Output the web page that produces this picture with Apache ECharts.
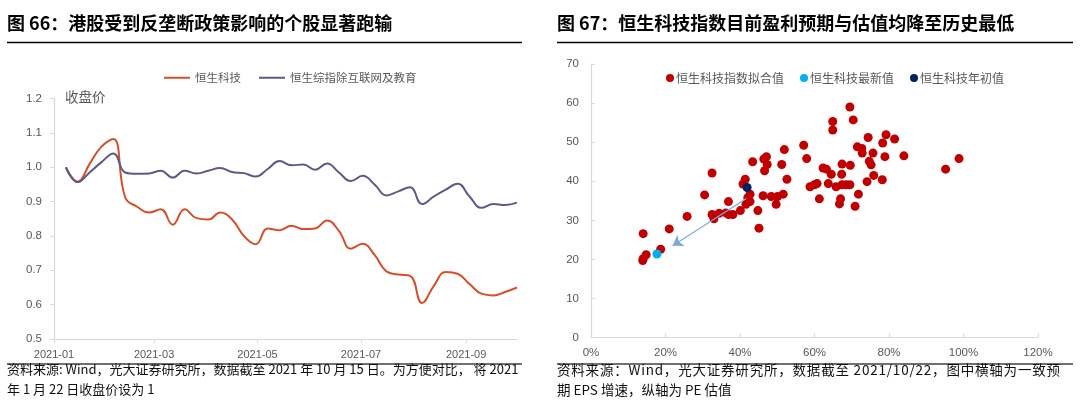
<!DOCTYPE html>
<html>
<head>
<meta charset="utf-8">
<script src="https://cdn.jsdelivr.net/npm/echarts@6/dist/echarts.min.js"></script>
<style>
html,body{margin:0;padding:0;background:#fff;}
#c{width:1080px;height:414px;}
</style>
</head>
<body>
<div id="c"></div>
<script>
// ---------- Left chart data (weekly closes, 2021-01-22 = 1) ----------
var dates = ['2021-01-22','2021-01-29','2021-02-05','2021-02-12','2021-02-19','2021-02-26','2021-03-05','2021-03-12','2021-03-19','2021-03-26',
  '2021-04-02','2021-04-09','2021-04-16','2021-04-23','2021-04-30','2021-05-07','2021-05-14','2021-05-21','2021-05-28','2021-06-04',
  '2021-06-11','2021-06-18','2021-06-25','2021-07-02','2021-07-09','2021-07-16','2021-07-23','2021-07-30','2021-08-06','2021-08-13',
  '2021-08-20','2021-08-27','2021-09-03','2021-09-10','2021-09-17','2021-09-24','2021-10-01','2021-10-08','2021-10-15'];
var hsTech = [1.000,0.958,1.010,1.060,1.082,0.912,0.885,0.868,0.878,0.833,
  0.878,0.852,0.848,0.868,0.848,0.800,0.776,0.822,0.817,0.830,
  0.820,0.822,0.845,0.815,0.763,0.777,0.745,0.697,0.688,0.684,
  0.605,0.655,0.695,0.690,0.660,0.632,0.627,0.637,0.650];
var hsExNet = [1.000,0.957,0.985,1.015,1.040,0.985,0.981,0.982,0.990,0.970,
  0.990,0.982,0.990,0.998,0.986,0.983,0.973,0.995,1.018,1.006,
  1.008,0.993,1.011,0.985,0.960,0.975,0.950,0.918,0.930,0.942,
  0.893,0.915,0.935,0.952,0.915,0.882,0.893,0.890,0.897];
var leftSeriesNames = ['恒生科技','恒生综指除互联网及教育'];
var leftTickDates = ['2021-01-15','2021-03-15','2021-05-15','2021-07-15','2021-09-15'];
var leftTickLabels = ['2021-01','2021-03','2021-05','2021-07','2021-09'];
var axisStartDate = '2021-01-15';
var axisEndDate = '2021-10-15';

// ---------- Right chart data (x: EPS growth %, y: PE) ----------
var fitPoints = [
  [14.0,26.6],[21.0,27.8],[25.8,31.0],[30.5,36.5],[32.5,42.1],[32.5,31.5],[33.0,30.4],[34.4,31.8],[36.2,31.9],[36.9,34.8],
  [36.9,31.5],[38.1,31.5],[40.1,32.5],[40.8,39.3],[41.4,40.5],[41.6,34.1],[42.1,35.8],[42.7,36.7],[42.7,34.8],[43.4,45.0],
  [44.8,32.5],[45.1,28.0],[46.2,36.3],[46.4,45.7],[47.1,46.3],[47.3,44.3],[46.6,42.7],[48.4,36.1],[49.7,34.1],[50.1,36.1],
  [51.2,44.3],[51.6,36.7],[51.9,48.1],[52.6,40.5],[57.1,49.2],[57.9,45.8],[58.8,38.6],[60.0,39.1],[60.7,39.4],[61.3,35.5],
  [62.3,43.4],[63.2,43.1],[63.7,39.4],[64.5,41.8],[64.9,55.3],[64.9,53.1],[65.8,38.6],[66.7,34.2],[67.0,35.5],[67.3,41.8],
  [67.4,44.4],[67.4,39.1],[68.5,39.1],[69.5,59.0],[69.5,39.1],[69.6,44.1],[70.4,55.7],[70.9,33.6],[71.5,48.8],[71.8,36.7],
  [72.7,48.4],[72.8,47.2],[74.1,39.9],[74.4,51.2],[74.7,45.1],[75.2,44.2],[75.7,47.2],[75.9,41.5],[78.2,40.4],[78.3,49.8],
  [78.9,46.3],[79.2,51.9],[81.5,50.8],[84.0,46.5],[95.2,43.1],[98.8,45.8],
  [14.0,20.2],[13.9,19.7],[14.8,21.2],[18.7,22.6]
];
var latestPoint = [[17.7,21.4]];
var startPoint = [[41.9,38.4]];
var arrowFrom = [41.7,35.6];
var arrowTo = [21.9,23.5];
var rightSeriesNames = ['恒生科技指数拟合值','恒生科技最新值','恒生科技年初值'];

// ---------- build ----------
var DAY = 86400000;
function toDay(s){ return (Date.parse(s) - Date.parse(axisStartDate)) / DAY; }
var axisMaxDay = toDay(axisEndDate);
var tickDays = leftTickDates.map(toDay);
function pairs(vals){ return dates.map(function(d,i){ return [toDay(d), vals[i]]; }); }

var FONT = '"Liberation Sans", "Noto Sans CJK SC", sans-serif';
var CJK = '"Noto Sans CJK SC", "Liberation Sans", sans-serif';
var GRAY = '#595959';
var AXIS = '#D9D9D9';

// justified text line: one text element per character, spread to fill width
var mctx = document.createElement('canvas').getContext('2d');
function justify(str, x0, x1, top, size){
  mctx.font = size + 'px ' + CJK;
  var chars = Array.from(str);
  var widths = chars.map(function(c){ return mctx.measureText(c).width; });
  var total = widths.reduce(function(a,b){return a+b;}, 0);
  var gap = (x1 - x0 - total) / (chars.length - 1);
  var x = x0, out = [];
  chars.forEach(function(c,i){
    if (c !== ' ') out.push({type:'text', left:x, top:top, style:{text:c, fontSize:size, fill:'#111', fontFamily:CJK}});
    x += widths[i] + gap;
  });
  return out;
}

var graphics = [
  {type:'text', left:7, top:14, style:{text:'图 66：港股受到反垄断政策影响的个股显著跑输', fontSize:18, fontWeight:'bold', fill:'#000', fontFamily:CJK}},
  {type:'line', shape:{x1:7, y1:42.5, x2:522, y2:42.5}, style:{stroke:'#000', lineWidth:1.3}},
  {type:'text', left:557, top:14, style:{text:'图 67：恒生科技指数目前盈利预期与估值均降至历史最低', fontSize:18, fontWeight:'bold', fill:'#000', fontFamily:CJK}},
  {type:'line', shape:{x1:557, y1:42.5, x2:1073, y2:42.5}, style:{stroke:'#000', lineWidth:1.3}},
  {type:'text', left:65, top:90, style:{text:'收盘价', fontSize:13.5, fill:GRAY, fontFamily:CJK}},
  {type:'line', shape:{x1:7, y1:364, x2:522, y2:364}, style:{stroke:'#404040', lineWidth:1.6}},
  {type:'text', left:7, top:363, style:{text:'资料来源: Wind，光大证券研究所，数据截至 2021 年 10 月 15 日。为方便对比， 将 2021', fontSize:13, fill:'#111', fontFamily:CJK}},
  {type:'text', left:7, top:383, style:{text:'年 1 月 22 日收盘价设为 1', fontSize:13, fill:'#111', fontFamily:CJK}},
  {type:'line', shape:{x1:557, y1:364, x2:1073, y2:364}, style:{stroke:'#404040', lineWidth:1.6}},
  {type:'text', left:557, top:383, style:{text:'期 EPS 增速，纵轴为 PE 估值', fontSize:13.5, fill:'#111', fontFamily:CJK}}
].concat(justify('资料来源：Wind，光大证券研究所，数据截至 2021/10/22，图中横轴为一致预', 557, 1060, 363, 13.5));

var chart = echarts.init(document.getElementById('c'), null, {renderer:'canvas'});
chart.setOption({
  animation:false,
  backgroundColor:'#fff',
  textStyle:{fontFamily:FONT},
  grid:[
    {left:54, top:98.6, width:463, height:240.4},
    {left:591, top:64, width:447, height:273.6}
  ],
  legend:[
    {data:leftSeriesNames, left:159, top:67, itemGap:18, itemWidth:26, itemHeight:2, icon:'rect',
     textStyle:{color:GRAY, fontSize:11.5, fontFamily:CJK}},
    {data:rightSeriesNames, left:661, top:67, itemGap:16, itemWidth:8, itemHeight:8, icon:'circle',
     textStyle:{color:GRAY, fontSize:12, fontFamily:CJK, padding:[0,0,0,-3]}}
  ],
  xAxis:[
    {gridIndex:0, type:'value', min:0, max:axisMaxDay,
     axisLine:{lineStyle:{color:AXIS, width:1.2}},
     axisTick:{show:true, length:4, lineStyle:{color:AXIS}, customValues:tickDays},
     splitLine:{show:false},
     axisLabel:{color:GRAY, fontSize:11, margin:10, customValues:tickDays,
       formatter:function(v){ var i = tickDays.indexOf(v); return i >= 0 ? leftTickLabels[i] : ''; }}},
    {gridIndex:1, type:'value', min:0, max:120, interval:20,
     axisLine:{lineStyle:{color:AXIS, width:1.2}},
     axisTick:{show:true, inside:true, length:4, lineStyle:{color:AXIS}},
     splitLine:{show:false},
     axisLabel:{color:GRAY, fontSize:11.5, margin:9, formatter:'{value}%'}}
  ],
  yAxis:[
    {gridIndex:0, type:'value', min:0.5, max:1.2, interval:0.1,
     axisLine:{show:true, lineStyle:{color:AXIS, width:1.2}},
     axisTick:{show:true, length:4, lineStyle:{color:AXIS}},
     splitLine:{show:false},
     axisLabel:{color:GRAY, fontSize:11.5, margin:12, formatter:function(v){return v.toFixed(1);}}},
    {gridIndex:1, type:'value', min:0, max:70, interval:10,
     axisLine:{show:true, lineStyle:{color:AXIS, width:1.2}},
     axisTick:{show:true, inside:true, length:4, lineStyle:{color:AXIS}},
     splitLine:{show:false},
     axisLabel:{color:GRAY, fontSize:11.5, margin:12}}
  ],
  series:[
    {name:leftSeriesNames[0], type:'line', xAxisIndex:0, yAxisIndex:0, data:pairs(hsTech),
     smooth:0.45, showSymbol:false, symbol:'none', lineStyle:{color:'#D4502A', width:2}, itemStyle:{color:'#D4502A'}},
    {name:leftSeriesNames[1], type:'line', xAxisIndex:0, yAxisIndex:0, data:pairs(hsExNet),
     smooth:0.45, showSymbol:false, symbol:'none', lineStyle:{color:'#5B5A88', width:2}, itemStyle:{color:'#5B5A88'}},
    {name:rightSeriesNames[0], type:'scatter', xAxisIndex:1, yAxisIndex:1, data:fitPoints,
     symbolSize:9, itemStyle:{color:'#C00000', opacity:1},
     markLine:{silent:true, symbol:['none','arrow'], symbolSize:10, label:{show:false},
       lineStyle:{color:'#7FA9DA', width:1.2, type:'solid'},
       emphasis:{disabled:true},
       data:[[{coord:arrowFrom},{coord:arrowTo}]]}},
    {name:rightSeriesNames[1], type:'scatter', xAxisIndex:1, yAxisIndex:1, data:latestPoint,
     symbolSize:9, itemStyle:{color:'#00B0F0', opacity:1}, z:3},
    {name:rightSeriesNames[2], type:'scatter', xAxisIndex:1, yAxisIndex:1, data:startPoint,
     symbolSize:9, itemStyle:{color:'#002060', opacity:1}, z:3}
  ],
  graphic:graphics
});
</script>
</body>
</html>
